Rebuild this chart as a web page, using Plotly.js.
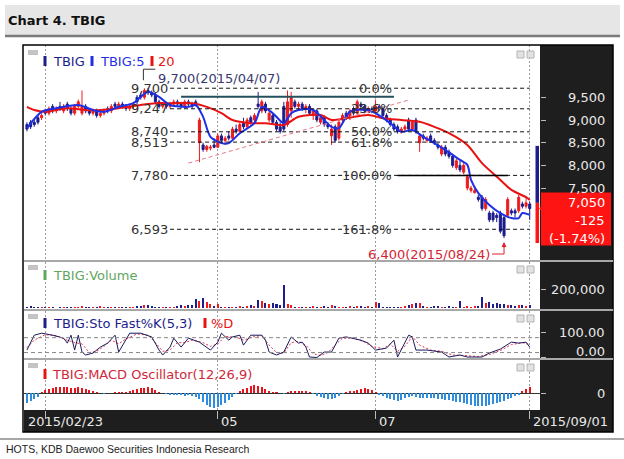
<!DOCTYPE html>
<html>
<head>
<meta charset="utf-8">
<script src="https://cdn.plot.ly/plotly-3.0.1.min.js"></script>
<style>
html, body { margin: 0; padding: 0; background: #fff; overflow: hidden; }
#chart { width: 624px; height: 459px; }
</style>
</head>
<body>
<div id="chart"></div>
<script>
// daily candles, one per trading day, last one = 2015/09/01
const opens = [
  8900,8950,8950,9050,9050,9200,9150,9300,9200,9300,
  9200,9350,9250,9150,9300,9150,9300,9200,9150,9200,
  9100,9150,9250,9200,9350,9300,9350,9300,9250,9300,
  9500,9550,9500,9650,9600,9550,9400,9300,9350,9300,
  9350,9400,9350,9300,9400,9350,9400,8500,8450,8350,
  8380,8450,8400,8650,8550,8650,8600,8800,8750,8950,
  8850,9050,9000,9350,9200,9350,9000,9100,8950,8850,
  9300,8900,9200,9400,9300,9350,9250,9300,9100,9200,
  8950,9050,8900,8650,8850,8600,9000,9150,9050,9250,
  9150,9350,9300,9200,9250,9200,9300,9250,9100,9000,
  8900,8850,8750,8800,9000,8800,9000,8500,8650,8550,
  8650,8550,8450,8250,8400,8300,8200,7950,8000,7850,
  7500,7450,7400,7300,7300,7050,6950,6950,6900,6950,
  6850,6900,7000,7000,7000,7150,7100,7150];
const highs = [
  8950,9000,9000,9100,9150,9250,9300,9350,9300,9400,
  9350,9400,9300,9350,9450,9650,9350,9250,9250,9250,
  9200,9250,9300,9350,9400,9400,9400,9350,9350,9400,
  9550,9600,9700,9700,9650,9600,9450,9400,9400,9400,
  9450,9450,9400,9450,9450,9400,9450,9050,8500,8450,
  8450,8600,8700,8700,8650,8750,8850,8900,8950,9050,
  9050,9100,9150,9620,9450,9400,9250,9150,9000,8950,
  9400,9650,9620,9450,9400,9400,9350,9350,9250,9250,
  9100,9100,8950,8900,8900,9000,9150,9200,9250,9300,
  9450,9400,9350,9300,9300,9450,9350,9300,9150,9050,
  8950,8900,8850,8900,9050,9000,9050,8700,8700,8650,
  8700,8600,8500,8450,8450,8350,8250,8150,8100,8050,
  7800,7550,7550,7350,7350,7300,7000,7000,6950,7000,
  6900,7300,7050,7050,7350,7200,7300,7200];
const lows = [
  8750,8800,8850,8900,9000,9100,9100,9150,9150,9200,
  9150,9200,9100,9100,9250,9100,9150,9100,9100,9050,
  9050,9100,9150,9150,9250,9250,9250,9200,9200,9250,
  9350,9450,9450,9550,9500,9350,9250,9250,9250,9250,
  9300,9300,9250,9250,9300,9250,9300,8070,8300,8300,
  8330,8380,8380,8500,8450,8550,8550,8700,8700,8800,
  8800,8900,8950,9250,9150,9150,8950,8900,8750,8700,
  8750,8850,9050,9250,9200,9200,9150,9100,9000,8950,
  8900,8850,8800,8450,8500,8550,8950,9000,9000,9100,
  9100,9250,9150,9150,9150,9150,9200,9050,8950,8850,
  8750,8700,8700,8750,8750,8750,8700,8300,8550,8500,
  8500,8450,8350,8200,8200,8150,7950,7900,7850,7800,
  7450,7400,7380,7200,7000,7000,6750,6750,6750,6500,
  6400,6850,6900,6850,6950,7050,7050,6800];
const closes = [
  8800,8850,8900,8950,9100,9150,9250,9200,9250,9250,
  9300,9250,9150,9300,9400,9300,9200,9150,9200,9100,
  9150,9200,9200,9300,9300,9350,9300,9250,9300,9350,
  9400,9500,9650,9600,9550,9400,9300,9350,9300,9350,
  9400,9350,9300,9400,9350,9300,9330,9000,8350,8420,
  8400,8400,8650,8550,8600,8600,8800,8750,8900,8850,
  9000,8950,9100,9300,9400,9200,9150,8950,8800,8750,
  8800,9400,9500,9300,9350,9250,9300,9150,9200,9000,
  9050,8900,8850,8800,8550,8950,9100,9050,9200,9150,
  9400,9300,9200,9250,9200,9300,9250,9100,9000,8900,
  8800,8750,8800,8850,8800,8950,8750,8650,8600,8600,
  8550,8500,8400,8400,8250,8200,8000,8100,7900,8000,
  7750,7500,7450,7250,7050,7250,6800,6800,6850,6550,
  6450,7250,6950,6950,7300,7100,7175,7050];
const volumes = [
  15000,20000,10000,18000,12000,15000,10000,12000,8000,10000,
  15000,12000,10000,18000,14000,20000,12000,10000,15000,12000,
  25000,15000,10000,12000,18000,10000,12000,15000,10000,15000,
  20000,25000,30000,35000,20000,15000,10000,12000,10000,15000,
  12000,20000,30000,25000,30000,30000,100000,80000,110000,70000,
  50000,20000,50000,15000,12000,10000,15000,12000,20000,15000,
  25000,30000,20000,90000,80000,60000,40000,60000,50000,30000,
  250000,40000,30000,15000,10000,12000,15000,10000,20000,15000,
  12000,25000,15000,30000,20000,15000,10000,15000,20000,10000,
  25000,20000,15000,20000,15000,70000,60000,15000,10000,12000,
  15000,10000,12000,25000,30000,40000,55000,60000,20000,15000,
  10000,20000,25000,15000,15000,20000,10000,12000,80000,15000,
  20000,15000,25000,20000,120000,60000,65000,50000,55000,45000,
  40000,35000,30000,25000,30000,35000,25000,30000];
const macdOsc = [
  -100,-80,-60,-40,10,30,40,50,60,60,
  65,60,50,55,60,50,40,30,20,10,
  5,-5,0,5,10,15,10,10,20,30,
  40,50,55,60,50,35,15,0,-10,-15,
  -20,-15,-20,-25,-20,-25,-40,-60,-90,-120,
  -140,-150,-140,-120,-100,-70,-40,-10,20,40,
  55,70,80,75,60,40,20,10,10,5,
  -10,15,25,25,20,25,20,15,-10,-25,
  -35,-45,-55,-60,-50,-30,-10,10,20,25,
  35,45,50,40,30,10,-15,-30,-45,-60,
  -70,-80,-70,-50,-40,-30,-35,-45,-45,-50,
  -45,-50,-55,-60,-65,-70,-80,-85,-90,-100,
  -110,-120,-125,-130,-130,-125,-120,-110,-100,-90,
  -80,-60,-45,-30,-15,20,40,60];

// moving averages (day index, price)
const ma5Day = [0,4,8,14,18,21,25,29,31,33,36,39,44,46,48,50,53,55,58,62,64,67,70,72,74,78,83,85,88,93,95,99,102,105,108,111,114,118,120,121,123,126,129,132,134,135,137];
const ma5 = [8820,9180,9260,9330,9220,9180,9290,9370,9510,9620,9510,9330,9290,9330,9070,8630,8490,8490,8710,8930,9290,9150,8930,9150,9220,9220,8850,8820,9180,9220,9150,8930,8740,8780,8630,8490,8340,8120,8010,7680,7390,7130,6950,6840,6840,6950,6910];
const ma20Day = [0,2,5,11,16,20,25,31,35,40,45,49,53,56,61,65,70,74,80,83,87,93,97,102,107,111,115,120,124,129,132,136,137];
const ma20 = [9290,9220,9180,9260,9220,9220,9260,9330,9370,9370,9370,9290,9150,9000,8930,8930,8890,9070,9110,9000,9040,9110,9040,9000,8960,8850,8710,8450,8050,7680,7460,7300,7240];

// stochastics (day index, value)
const stoKDay = [0,2,4,7,10,11,12,13,14,15,16,18,20,22,24,25,28,31,34,36,37,39,40,42,44,47,50,52,53,55,56,58,59,61,64,65,66,68,70,72,74,75,76,77,79,81,83,85,87,91,93,95,98,100,101,104,105,106,109,113,115,118,120,124,126,129,132,134,136,137];
const stoK = [30,90,98,90,78,58,90,30,90,22,10,18,42,58,90,22,98,98,83,30,10,42,78,42,78,62,30,62,98,70,83,90,50,90,90,70,22,10,22,83,58,62,42,2,0,22,22,78,83,70,58,30,38,70,2,90,83,30,30,22,2,10,2,2,18,34,62,58,62,42];
const stoDDay = [0,2,5,8,11,13,15,17,19,21,23,25,27,30,33,35,37,39,41,43,45,48,50,52,54,57,59,62,64,66,68,70,72,74,76,78,80,82,84,86,89,92,94,97,99,101,103,105,107,110,113,116,119,123,126,129,132,135,137];
const stoD = [40,70,92,88,70,60,55,20,25,45,70,55,75,95,90,60,25,30,60,60,70,60,45,55,85,82,70,85,88,50,20,18,60,65,50,15,8,20,50,78,78,62,45,35,55,25,45,85,50,30,25,10,8,4,12,28,52,60,52];

// fibonacci levels
const fibPct = ['0.0%','23.6%','50.0%','61.8%','100.0%','161.8%'];
const fibPrice = [9700, 9247, 8740, 8513, 7780, 6593];
const resistLevel = 9510;
const rangeBarTop = 8430, rangeBarBottom = 6290;
const peakDate = '2015/04/07', lowDate = '2015/08/24';

// axis ticks
const priceTicks = [9500, 9000, 8500, 8000, 7500];
const volTicks = [200000];
const stoTicks = [100, 0];
const macdTicks = [0];
const xTickDay = [5, 52, 95, 137];
const xTickText = ['2015/02/23', '05', '07', '2015/09/01'];

const W = 624, H = 459;
const px = x => x / W;
const py = y => 1 - y / H;
const fmt = v => v.toLocaleString('en-US');
const FONT = 'DejaVu Sans';
const UP = '#ee1c1c', DN = '#1d1d8c';

const N = closes.length;
const days = closes.map((c, i) => i);
const xdom = [px(24), px(540)];

var data = [
  {
    type: 'candlestick', x: days, open: opens, high: highs, low: lows, close: closes,
    xaxis: 'x', yaxis: 'y', whiskerwidth: 0, hoverinfo: 'skip',
    increasing: {line: {color: UP, width: 1}, fillcolor: UP},
    decreasing: {line: {color: DN, width: 1}, fillcolor: DN}
  },
  {
    type: 'scatter', mode: 'lines', x: ma20Day, y: ma20, xaxis: 'x', yaxis: 'y',
    line: {color: '#e81212', width: 2, shape: 'spline', smoothing: 0.8}
  },
  {
    type: 'scatter', mode: 'lines', x: ma5Day, y: ma5, xaxis: 'x', yaxis: 'y',
    line: {color: '#1f2fe6', width: 2, shape: 'spline', smoothing: 0.8}
  },
  {
    type: 'bar', x: days, y: volumes, xaxis: 'x', yaxis: 'y2', width: 0.55,
    marker: {color: closes.map((c, i) => c >= opens[i] ? UP : DN)}
  },
  {
    type: 'scatter', mode: 'lines', x: stoDDay, y: stoD, xaxis: 'x', yaxis: 'y3',
    line: {color: '#e0304a', width: 1, dash: '2px,2px'}
  },
  {
    type: 'scatter', mode: 'lines', x: stoKDay, y: stoK, xaxis: 'x', yaxis: 'y3',
    line: {color: '#1a1a5c', width: 1}
  },
  {
    type: 'bar', x: days, y: macdOsc, xaxis: 'x', yaxis: 'y4', width: 0.55,
    marker: {color: macdOsc.map(v => v >= 0 ? '#e8141c' : '#2f8de0')}
  }
];

const yBase = {
  anchor: 'x', side: 'right', ticks: 'outside', ticklen: 5, tickcolor: '#bbbbbb',
  showticklabels: false, showgrid: false, zeroline: false, fixedrange: true
};

var shapes = [
  // header band
  {type: 'rect', xref: 'paper', yref: 'paper', x0: px(5), x1: px(620), y0: py(35), y1: py(5),
   fillcolor: '#e6e6e6', line: {width: 0}, layer: 'below'},
  {type: 'line', xref: 'paper', yref: 'paper', x0: px(5), x1: px(620), y0: py(36), y1: py(36),
   line: {color: '#7a7a7a', width: 2.5}},
  // dark axis areas
  {type: 'rect', xref: 'paper', yref: 'paper', x0: px(540), x1: px(613), y0: py(432), y1: py(45),
   fillcolor: '#1e1e1e', line: {width: 0}, layer: 'below'},
  {type: 'rect', xref: 'paper', yref: 'paper', x0: px(24), x1: px(613), y0: py(432), y1: py(410),
   fillcolor: '#1e1e1e', line: {width: 0}, layer: 'below'},
  // frame
  {type: 'rect', xref: 'paper', yref: 'paper', x0: px(23), x1: px(613), y0: py(432), y1: py(45),
   line: {color: '#000', width: 1.5}},
  // bottom rule
  {type: 'line', xref: 'paper', yref: 'paper', x0: 0, x1: 1, y0: py(439), y1: py(439),
   line: {color: '#8a8a8a', width: 1.5}}
];

// panel separators
[261, 310, 359].forEach(y => shapes.push({
  type: 'line', xref: 'paper', yref: 'paper', x0: px(24), x1: px(613), y0: py(y), y1: py(y),
  line: {color: '#a8a8a8', width: 2}
}));

// fibonacci lines
fibPrice.forEach(p => shapes.push({
  type: 'line', xref: 'x', yref: 'y', x0: 39, x1: 137, y0: p, y1: p,
  line: {color: '#111', width: 1, dash: '4px,3px'}
}));
// resistance, 100% solid segment, rising support
shapes.push({type: 'line', xref: 'x', yref: 'y', x0: 42, x1: 100, y0: resistLevel, y1: resistLevel,
  line: {color: '#24505e', width: 2}});
shapes.push({type: 'line', xref: 'x', yref: 'y', x0: 101, x1: 131, y0: fibPrice[4], y1: fibPrice[4],
  line: {color: '#000', width: 1.5}});
shapes.push({type: 'line', xref: 'x', yref: 'y', x0: 44, x1: 104, y0: 8050, y1: 9440,
  line: {color: '#e67a8a', width: 1, dash: '4px,3px'}});

// stochastic guide lines
[20, 80].forEach(v => shapes.push({
  type: 'line', xref: 'paper', yref: 'y3', x0: xdom[0], x1: xdom[1], y0: v, y1: v,
  line: {color: '#888', width: 1, dash: '4px,3px'}
}));

// peak / low markers
const peakHigh = Math.max(...highs), peakDay = highs.indexOf(peakHigh);
const lowLow = Math.min(...lows), lowDay = lows.indexOf(lowLow);
shapes.push({type: 'path', xref: 'x', yref: 'y', xsizemode: 'pixel', ysizemode: 'pixel',
  xanchor: peakDay, yanchor: peakHigh, path: 'M -1,8 L -1,19 L 11,19',
  line: {color: '#333', width: 1}});
shapes.push({type: 'path', xref: 'x', yref: 'y', xsizemode: 'pixel', ysizemode: 'pixel',
  xanchor: lowDay, yanchor: lowLow, path: 'M 0,-6 L 0,-16 L -12,-16',
  line: {color: '#e02030', width: 1}});

// last price box
const last = closes[N - 1], prev = closes[N - 2];
const chg = last - prev, chgPct = chg / prev * 100;
shapes.push({type: 'rect', xref: 'paper', yref: 'y', ysizemode: 'pixel', yanchor: last,
  x0: px(541), x1: px(611), y0: -37, y1: 16, fillcolor: '#ff1414', line: {width: 0}});
shapes.push({type: 'path', xref: 'paper', yref: 'y', xsizemode: 'pixel', ysizemode: 'pixel',
  xanchor: px(539), yanchor: last, path: 'M 0,0 L 7,6 L 7,-6 Z', fillcolor: '#ff1414', line: {width: 0}});
// day range bar at the right edge
shapes.push({type: 'rect', xref: 'paper', yref: 'y', x0: px(535.5), x1: px(539), y0: prev, y1: rangeBarTop,
  fillcolor: DN, line: {width: 0}});
shapes.push({type: 'rect', xref: 'paper', yref: 'y', x0: px(535.5), x1: px(539), y0: rangeBarBottom, y1: prev,
  fillcolor: '#ff1414', line: {width: 0}});

// panel chrome: gray handles, buttons, legend markers
[50, 265, 314, 363].forEach(y => {
  shapes.push({type: 'rect', xref: 'paper', yref: 'paper', x0: px(28), x1: px(38), y0: py(y + 5), y1: py(y),
    fillcolor: '#c4c4c4', line: {width: 0}});
  [517, 527].forEach(x => shapes.push({type: 'rect', xref: 'paper', yref: 'paper',
    x0: px(x), x1: px(x + 7), y0: py(y + 8), y1: py(y + 1), fillcolor: '#e2e2e2', line: {color: '#b4b4b4', width: 1}}));
});
[[45, 61, '#1d1d8c'], [92, 61, '#1f2fe6'], [152, 61, '#e81212'], [45, 275, '#5fa65f'],
 [45, 323, '#1d1d8c'], [205, 323, '#e81212'], [45, 374, '#e81212']].forEach(m => shapes.push({
  type: 'rect', xref: 'paper', yref: 'paper', x0: px(m[0] - 1.5), x1: px(m[0] + 1.5),
  y0: py(m[1] + 5), y1: py(m[1] - 5), fillcolor: m[2], line: {width: 0}
}));

var annotations = [];
const ann = o => annotations.push(Object.assign({showarrow: false, yanchor: 'middle',
  font: {family: FONT, size: 13, color: '#e8e8e8'}}, o));

// right axis labels
priceTicks.forEach(v => ann({xref: 'paper', x: px(607), xanchor: 'right', yref: 'y', y: v, text: fmt(v)}));
volTicks.forEach(v => ann({xref: 'paper', x: px(607), xanchor: 'right', yref: 'y2', y: v, text: fmt(v)}));
stoTicks.forEach(v => ann({xref: 'paper', x: px(607), xanchor: 'right', yref: 'y3', y: v,
  yshift: v === 0 ? 6 : 0, text: v.toFixed(2)}));
macdTicks.forEach(v => ann({xref: 'paper', x: px(607), xanchor: 'right', yref: 'y4', y: v, text: String(v)}));

// x labels
xTickText.forEach((t, i) => {
  ann(i === 0
    ? {xref: 'paper', x: px(26), xanchor: 'left', yref: 'paper', y: py(421), text: t}
    : {xref: 'x', x: xTickDay[i], xanchor: 'left', xshift: 1, yref: 'paper', y: py(421), text: t});
});

// price box texts
ann({xref: 'paper', x: px(607), xanchor: 'right', yref: 'y', y: last, yshift: 6, text: fmt(last), font: {family: FONT, size: 13, color: '#fff'}});
ann({xref: 'paper', x: px(607), xanchor: 'right', yref: 'y', y: last, yshift: -12, text: String(chg), font: {family: FONT, size: 13, color: '#fff'}});
ann({xref: 'paper', x: px(607), xanchor: 'right', yref: 'y', y: last, yshift: -30, text: '(' + chgPct.toFixed(2) + '%)', font: {family: FONT, size: 13, color: '#fff'}});

// fibonacci labels
fibPrice.forEach((p, i) => {
  ann({xref: 'x', x: 39, xanchor: 'right', yref: 'y', y: p, text: fmt(p), font: {family: FONT, size: 13, color: '#333'}});
  ann({xref: 'x', x: 100, xanchor: 'right', yref: 'y', y: p, text: fibPct[i], font: {family: FONT, size: 13, color: '#333'}});
});

// peak and low notes
ann({xref: 'x', x: peakDay, xanchor: 'left', xshift: 12, yref: 'y', y: peakHigh, yshift: 10,
  text: fmt(peakHigh) + '(' + peakDate + ')', font: {family: FONT, size: 13, color: '#3a3a70'}});
ann({xref: 'x', x: lowDay, xanchor: 'right', xshift: -12, yref: 'y', y: lowLow, yshift: -16,
  text: fmt(lowLow) + '(' + lowDate + ')', font: {family: FONT, size: 13, color: '#d42434'}});
annotations.push({xref: 'x', x: lowDay, yref: 'y', y: lowLow, text: '', showarrow: true,
  ax: 0, ay: 11, standoff: 4, arrowhead: 2, arrowsize: 1, arrowwidth: 1, arrowcolor: '#e02030'});

// panel titles
const ttl = (x, y, t, c) => ann({xref: 'paper', x: px(x), xanchor: 'left', yref: 'paper', y: py(y), text: t,
  font: {family: FONT, size: 13, color: c}});
ttl(51, 61, 'TBIG', '#1d1d8c');
ttl(98, 61, 'TBIG:5', '#1f2fe6');
ttl(156, 61, '20', '#e81212');
ttl(51, 275, 'TBIG:Volume', '#5fa65f');
ttl(51, 323, 'TBIG:Sto Fast%K(5,3)', '#1d1d8c');
ttl(209, 323, '%D', '#e81212');
ttl(50, 374, 'TBIG:MACD Oscillator(12,26,9)', '#d0283a');

// header and source
ann({xref: 'paper', x: px(6), xanchor: 'left', yref: 'paper', y: py(20), text: '<b>Chart 4. TBIG</b>',
  font: {family: FONT, size: 13, color: '#111'}});
ann({xref: 'paper', x: px(4), xanchor: 'left', yref: 'paper', y: py(449),
  text: 'HOTS, KDB Daewoo Securities Indonesia Research', font: {family: 'Liberation Sans', size: 10.5, color: '#222'}});

var layout = {
  width: W, height: H,
  margin: {l: 0, r: 0, t: 0, b: 0, pad: 0, autoexpand: false},
  paper_bgcolor: '#ffffff',
  plot_bgcolor: '#ffffff',
  showlegend: false,
  bargap: 0,
  boxgap: 0.2,
  font: {family: FONT, size: 12, color: '#222'},
  xaxis: {
    domain: xdom, range: [-0.8, 139.8], anchor: 'y4', automargin: false,
    tickvals: xTickDay, ticks: 'outside', ticklen: 8, tickcolor: '#bbbbbb', showticklabels: false,
    showgrid: true, gridcolor: '#9a9a9a', gridwidth: 1, griddash: '2px,2px',
    zeroline: false, rangeslider: {visible: false}, fixedrange: true
  },
  yaxis: Object.assign({}, yBase, {domain: [py(261), py(45)], range: [5894, 10652], tickvals: priceTicks}),
  yaxis2: Object.assign({}, yBase, {domain: [py(310), py(262)], range: [-18000, 487000], tickvals: volTicks}),
  yaxis3: Object.assign({}, yBase, {domain: [py(359), py(311)], range: [-6, 187.5], tickvals: stoTicks}),
  yaxis4: Object.assign({}, yBase, {domain: [py(410), py(360)], range: [-167, 333], tickvals: macdTicks,
    zeroline: true, zerolinecolor: '#333', zerolinewidth: 1}),
  shapes: shapes,
  annotations: annotations
};

Plotly.newPlot('chart', data, layout, {displayModeBar: false, staticPlot: true});
</script>
</body>
</html>
